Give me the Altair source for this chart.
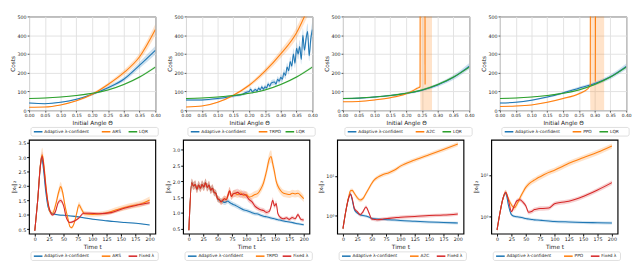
import altair as alt
import pandas as pd

FONT = "DejaVu Sans"
C_BLUE, C_ORANGE, C_GREEN, C_RED = "#1f77b4", "#ff7f0e", "#2ca02c", "#d62728"
ADAPT = "Adaptive λ-confident"
LQR = "LQR"
FIXED = "Fixed λ"
RL_NAMES = ["ARS", "TRPO", "A2C", "PPO"]

# ---------------- Top row: Costs vs initial angle ----------------
THETA = [0.00, 0.05, 0.10, 0.15, 0.20, 0.25, 0.30, 0.35, 0.40]
LQR_COST = [63, 65, 70, 78, 90, 108, 137, 177, 230]

ARS_ADAPT = [38, 35, 42, 58, 85, 120, 165, 240, 320]
ARS_RL = [16, 17, 28, 50, 85, 137, 200, 285, 430]

TRPO_ADAPT_X = [0.00, 0.05, 0.10, 0.15, 0.18, 0.19, 0.20, 0.205, 0.21, 0.22, 0.225, 0.23, 0.235,
                0.24, 0.245, 0.25, 0.255, 0.26, 0.265, 0.27, 0.28, 0.285, 0.29, 0.295, 0.30, 0.305,
                0.31, 0.315, 0.32, 0.325, 0.33, 0.335, 0.34, 0.345, 0.35, 0.355, 0.36, 0.365, 0.37,
                0.375, 0.38, 0.385, 0.39, 0.395, 0.40]
TRPO_ADAPT = [55, 55, 62, 76, 85, 95, 100, 112, 98, 110, 102, 118, 108,
              125, 112, 125, 118, 140, 128, 145, 150, 140, 165, 155, 175, 165,
              200, 185, 230, 210, 260, 235, 300, 250, 330, 300, 340, 270, 400,
              320, 380, 420, 290, 380, 430]
TRPO_RL_X = [0.00, 0.05, 0.10, 0.15, 0.20, 0.25, 0.30, 0.35, 0.375, 0.40]
TRPO_RL = [17, 22, 42, 80, 133, 208, 300, 413, 500, 600]

A2C_ADAPT = [62, 64, 70, 78, 90, 107, 135, 175, 235]
A2C_RL_X1 = [0.00, 0.05, 0.10, 0.15, 0.20, 0.22, 0.235, 0.244, 0.246]
A2C_RL_Y1 = [45, 47, 55, 67, 88, 103, 117, 125, 3000]
A2C_RL_X2 = [0.258, 0.260]
A2C_RL_Y2 = [3000, 137]
A2C_BAND_X = [0.00, 0.05, 0.10, 0.15, 0.20, 0.22, 0.235, 0.244, 0.246, 0.282]
A2C_BAND_LO = [43, 45, 52, 63, 83, 97, 110, 117, 0, 0]
A2C_BAND_HI = [47, 49, 58, 71, 93, 109, 124, 133, 3000, 3000]

PPO_ADAPT = [38, 42, 53, 70, 92, 117, 142, 178, 233]
PPO_RL_X1 = [0.00, 0.05, 0.10, 0.15, 0.20, 0.25, 0.28, 0.286, 0.288]
PPO_RL_Y1 = [20, 22, 28, 42, 62, 88, 117, 135, 3000]
PPO_RL_X2 = [0.300, 0.302, 0.306]
PPO_RL_Y2 = [3000, 155, 3000]
PPO_BAND_X = [0.00, 0.05, 0.10, 0.15, 0.20, 0.25, 0.28, 0.285, 0.287, 0.33]
PPO_BAND_LO = [18, 20, 26, 39, 58, 83, 110, 125, 0, 0]
PPO_BAND_HI = [22, 24, 30, 45, 66, 93, 124, 140, 3000, 3000]

# ---------------- Bottom row: ||x_t||_2 vs time ----------------
T5_BLUE = [0, 5, 10, 12, 15, 19, 23, 28, 35, 42, 55, 69, 85, 101, 120, 138, 157, 176, 190, 200]
ARS_B_BLUE = [0.45, 1.5, 2.75, 3.02, 2.6, 1.82, 1.28, 1.08, 1.02, 1.0, 0.98, 0.95, 0.9, 0.85,
              0.81, 0.77, 0.74, 0.71, 0.68, 0.65]
T5_ORANGE = [0, 5, 10, 13, 16, 20, 26, 31, 36, 42, 45, 48, 53, 58, 61, 64, 69, 73, 77, 80, 87,
             101, 122, 144, 165, 187, 200]
ARS_B_ORANGE = [0.45, 1.5, 2.8, 3.08, 2.7, 1.9, 1.12, 1.06, 1.33, 1.82, 1.98, 1.82, 1.28, 0.85,
                0.6, 0.56, 0.74, 1.06, 1.35, 1.25, 1.04, 1.02, 1.06, 1.19, 1.3, 1.4, 1.52]
T5_RED = [0, 5, 10, 13, 16, 20, 26, 31, 36, 41, 45, 50, 55, 61, 69, 77, 85, 95, 112, 133, 154,
          176, 200]
ARS_B_RED = [0.45, 1.5, 2.75, 3.03, 2.6, 1.82, 1.17, 1.0, 1.12, 1.44, 1.5, 1.33, 0.9, 0.74,
             0.79, 0.9, 1.06, 1.06, 1.04, 1.08, 1.22, 1.33, 1.42]

T6 = [0, 5, 8, 11, 14, 17, 20, 23, 26, 29, 32, 35, 38, 41, 44, 47, 50, 53, 56, 59, 62, 65, 68,
      71, 74, 77, 80, 85, 90, 95, 100, 105, 110, 115, 120, 125, 130, 135, 140, 143, 146, 149,
      152, 155, 160, 165, 170, 175, 180, 185, 190, 195, 200]
TRPO_B_BLUE = [0.46, 1.95, 1.85, 1.9, 1.75, 1.88, 1.78, 1.9, 1.82, 1.95, 1.8, 1.88, 1.72, 1.78,
               1.65, 1.62, 1.45, 1.4, 1.38, 1.36, 1.33, 1.35, 1.38, 1.33, 1.3, 1.27, 1.25, 1.2,
               1.15, 1.1, 1.08, 1.05, 1.01, 0.98, 0.97, 0.93, 0.9, 0.88, 0.86, 0.84, 0.83, 0.82,
               0.8, 0.79, 0.77, 0.75, 0.73, 0.72, 0.7, 0.68, 0.66, 0.65, 0.63]
TRPO_B_ORANGE = [0.46, 1.95, 1.85, 1.9, 1.75, 1.88, 1.78, 1.9, 1.82, 1.95, 1.8, 1.88, 1.72, 1.78,
                 1.65, 1.62, 1.45, 1.42, 1.35, 1.4, 1.45, 1.42, 1.55, 1.7, 1.52, 1.6, 1.62, 1.58,
                 1.63, 1.55, 1.58, 1.5, 1.53, 1.58, 1.62, 1.75, 1.95, 2.3, 2.7, 2.78, 2.55, 2.3,
                 2.0, 1.85, 1.7, 1.62, 1.6, 1.58, 1.62, 1.6, 1.62, 1.55, 1.45]
TRPO_B_RED = [0.46, 1.95, 1.85, 1.9, 1.75, 1.88, 1.78, 1.9, 1.82, 1.95, 1.8, 1.88, 1.72, 1.78,
              1.65, 1.62, 1.45, 1.42, 1.35, 1.4, 1.45, 1.42, 1.55, 1.7, 1.52, 1.6, 1.62, 1.65,
              1.58, 1.6, 1.55, 1.42, 1.35, 1.22, 1.15, 1.1, 1.08, 1.02, 1.05, 1.2, 1.4, 1.22,
              1.3, 0.98, 0.85, 0.82, 0.85, 0.8, 0.86, 0.82, 0.95, 0.8, 0.78]

T7 = [0, 5, 10, 13, 16, 20, 25, 30, 35, 40, 45, 50, 55, 60, 70, 80, 90, 100, 125, 150, 175, 200]
A2C_B_BLUE = [0.47, 1.3, 2.8, 3.5, 2.5, 1.4, 1.15, 1.05, 1.0, 0.97, 0.92, 0.85, 0.83, 0.82, 0.8,
              0.78, 0.77, 0.75, 0.72, 0.69, 0.67, 0.65]
A2C_B_ORANGE = [0.47, 1.3, 3.0, 4.2, 4.3, 3.6, 2.8, 2.45, 2.7, 3.6, 4.8, 6.4, 8.0, 9.1, 10.8,
                12.0, 14.0, 17.5, 25.0, 34.0, 46.0, 63.0]
A2C_B_RED = [0.47, 1.3, 2.8, 3.5, 2.7, 1.5, 1.25, 1.05, 1.26, 1.65, 1.2, 0.82, 0.8, 0.78, 0.82,
             0.85, 0.88, 0.91, 0.95, 1.0, 1.03, 1.1]

T8 = [0, 5, 10, 15, 20, 25, 30, 35, 40, 45, 50, 55, 60, 65, 70, 75, 80, 90, 100, 110, 125, 150,
      175, 200]
PPO_B_BLUE = [0.47, 1.2, 2.6, 3.6, 1.8, 1.1, 1.0, 0.97, 0.95, 0.92, 0.88, 0.86, 0.84, 0.82, 0.81,
              0.8, 0.79, 0.77, 0.75, 0.74, 0.73, 0.71, 0.7, 0.69]
PPO_B_ORANGE = [0.47, 1.2, 2.6, 3.8, 2.6, 1.9, 1.6, 2.0, 2.8, 3.8, 5.0, 6.0, 6.8, 7.5, 8.3, 9.0,
                9.8, 11.5, 13.0, 15.0, 19.0, 26.0, 35.0, 50.0]
PPO_B_RED = [0.47, 1.2, 2.6, 3.8, 2.4, 1.3, 1.8, 2.4, 2.5, 2.2, 1.8, 1.25, 1.3, 1.45, 1.5, 1.55,
             1.55, 1.58, 2.0, 2.15, 2.3, 3.0, 4.3, 6.5]

# relative half-width of the confidence bands
SPREAD_TOP = {"adapt": 0.07, "rl": 0.07, "lqr": 0.03, "trpo_adapt": 0.1}
SPREAD_BOT = [{"adapt": 0.03, "rl": 0.08, "fixed": 0.05},
              {"adapt": 0.06, "rl": 0.07, "fixed": 0.07},
              {"adapt": 0.08, "rl": 0.12, "fixed": 0.1},
              {"adapt": 0.08, "rl": 0.15, "fixed": 0.12}]


def rows(name, xs, ys, frac, seg=0):
    return [dict(series=name, seg=seg, x=x, y=y, lo=y * (1 - frac), hi=y * (1 + frac))
            for x, y in zip(xs, ys)]


def band_rows(name, xs, lo, hi, seg=0):
    return [dict(series=name, seg=seg, x=x, lo=a, hi=b) for x, a, b in zip(xs, lo, hi)]


TOP_W, TOP_H = 132, 98
BOT_W, BOT_H = 132, 98

# legend layout (pixel offsets inside each panel, below the x-axis title)
LEG_BOX = (2, 135)
LEG_SYM_X = [5, 76, 104]
LEG_H = 9


def legend_layers(names, colors, top):
    box = alt.Chart(pd.DataFrame({"k": [0]})).mark_rect(
        fill="white", stroke="#d0d0d0", strokeWidth=0.7, cornerRadius=2).encode(
        x=alt.value(LEG_BOX[0]), x2=alt.value(LEG_BOX[1]),
        y=alt.value(top), y2=alt.value(top + LEG_H))
    layers = [box]
    mid = top + LEG_H / 2
    for name, color, sx in zip(names, colors, LEG_SYM_X):
        df = pd.DataFrame({"series": [name]})
        layers.append(alt.Chart(df).mark_rule(color=color, strokeWidth=1.6).encode(
            x=alt.value(sx), x2=alt.value(sx + 9), y=alt.value(mid)))
        layers.append(alt.Chart(df).mark_text(
            align="left", baseline="middle", fontSize=4.5, font=FONT, color="#222").encode(
            x=alt.value(sx + 11), y=alt.value(mid), text="series:N"))
    return layers


def panel(lines, bands, names, colors, xdom, ydom, xaxis, yaxis, leg_top, w, h,
          ytype="linear", view=None):
    xs = alt.Scale(domain=xdom, nice=False, zero=False)
    ys = alt.Scale(type=ytype, domain=ydom, nice=False, zero=False)
    band = alt.Chart(pd.DataFrame(bands)).mark_area(
        clip=True, opacity=0.22, interpolate="monotone").encode(
        x=alt.X("x:Q", scale=xs, axis=xaxis),
        y=alt.Y("lo:Q", scale=ys, axis=yaxis, stack=None),
        y2="hi:Q",
        fill=alt.Fill("series:N", scale=alt.Scale(domain=names[::-1], range=colors[::-1]),
                      legend=None),
        detail="seg:N",
    )
    line = alt.Chart(pd.DataFrame(lines)).mark_line(
        clip=True, strokeWidth=1.1, interpolate="monotone").encode(
        x=alt.X("x:Q", scale=xs, axis=xaxis),
        y=alt.Y("y:Q", scale=ys, axis=yaxis),
        stroke=alt.Stroke("series:N", scale=alt.Scale(domain=names, range=colors), legend=None),
        detail="seg:N",
    )
    return alt.layer(band, line, *legend_layers(names, colors, leg_top)).properties(
        width=w, height=h, view=view)


top_x_axis = alt.Axis(values=THETA, format=".2f", grid=True, gridColor="#e2e2e2", tickSize=2,
                      tickColor="#555", labelPadding=1, labelOverlap=False, labelFlush=False,
                      labelFontSize=4.6, title="Initial Angle Θ", titlePadding=2)
top_y_axis = alt.Axis(values=[0, 100, 200, 300, 400, 500], grid=True, gridColor="#e2e2e2",
                      tickSize=2, tickColor="#555", labelPadding=1, labelOverlap=False,
                      title="Costs", titlePadding=2)
top_view = alt.ViewBackground(stroke="#333", strokeWidth=1)

top_specs = [
    (ARS_ADAPT, THETA, [(ARS_RL, THETA)]),
    (TRPO_ADAPT, TRPO_ADAPT_X, [(TRPO_RL, TRPO_RL_X)]),
    (A2C_ADAPT, THETA, [(A2C_RL_Y1, A2C_RL_X1), (A2C_RL_Y2, A2C_RL_X2)]),
    (PPO_ADAPT, THETA, [(PPO_RL_Y1, PPO_RL_X1), (PPO_RL_Y2, PPO_RL_X2)]),
]
explicit_bands = {2: (A2C_BAND_X, A2C_BAND_LO, A2C_BAND_HI), 3: (PPO_BAND_X, PPO_BAND_LO, PPO_BAND_HI)}

top_panels = []
for i, (ad, adx, rl_segs) in enumerate(top_specs):
    rl = RL_NAMES[i]
    fa = SPREAD_TOP["trpo_adapt"] if i == 1 else SPREAD_TOP["adapt"]
    lines = rows(ADAPT, adx, ad, fa)
    for s, (ry, rx) in enumerate(rl_segs):
        lines += rows(rl, rx, ry, SPREAD_TOP["rl"], seg=s)
    lines += rows(LQR, THETA, LQR_COST, SPREAD_TOP["lqr"])
    bands = rows(ADAPT, adx, ad, fa)
    if i in explicit_bands:
        bx, blo, bhi = explicit_bands[i]
        bands += band_rows(rl, bx, blo, bhi)
    else:
        ry, rx = rl_segs[0]
        bands += rows(rl, rx, ry, SPREAD_TOP["rl"])
    bands += rows(LQR, THETA, LQR_COST, SPREAD_TOP["lqr"])
    top_panels.append(panel(lines, bands, [ADAPT, rl, LQR], [C_BLUE, C_ORANGE, C_GREEN],
                            [0, 0.4], [0, 500], top_x_axis, top_y_axis,
                            TOP_H + 18, TOP_W, TOP_H, view=top_view))

TIME_TICKS = [0, 25, 50, 75, 100, 125, 150, 175, 200]
bot_x_axis = alt.Axis(values=TIME_TICKS, grid=False, tickSize=2.5, tickColor="#000",
                      labelPadding=1, labelOverlap=False, labelFlush=False,
                      title="Time t", titlePadding=2)
bot_view = alt.ViewBackground(stroke="#000", strokeWidth=1.2)

LOG_EXPR = "datum.value == 1 ? '10⁰' : '10¹'"
bot_specs = [
    ((T5_BLUE, ARS_B_BLUE), (T5_ORANGE, ARS_B_ORANGE), (T5_RED, ARS_B_RED), "linear", [0.35, 3.6],
     [0.5, 1.0, 1.5, 2.0, 2.5, 3.0, 3.5]),
    ((T6, TRPO_B_BLUE), (T6, TRPO_B_ORANGE), (T6, TRPO_B_RED), "linear", [0.35, 3.3],
     [0.5, 1.0, 1.5, 2.0, 2.5, 3.0]),
    ((T7, A2C_B_BLUE), (T7, A2C_B_ORANGE), (T7, A2C_B_RED), "log", [0.35, 80], [1, 10]),
    ((T8, PPO_B_BLUE), (T8, PPO_B_ORANGE), (T8, PPO_B_RED), "log", [0.38, 70], [1, 10]),
]

bot_panels = []
for i, (b, o, r, ytype, ydom, yvals) in enumerate(bot_specs):
    rl = RL_NAMES[i]
    sp = SPREAD_BOT[i]
    if ytype == "linear":
        yax = alt.Axis(values=yvals, format=".1f", grid=False, tickSize=2.5, tickColor="#000",
                       labelPadding=1, labelOverlap=False, title="‖xₜ‖₂", titlePadding=2)
    else:
        yax = alt.Axis(values=yvals, labelExpr=LOG_EXPR, grid=False, tickSize=2.5,
                       tickColor="#000", labelPadding=1, labelOverlap=False,
                       title="‖xₜ‖₂", titlePadding=2)
    lines = rows(ADAPT, b[0], b[1], sp["adapt"]) + rows(rl, o[0], o[1], sp["rl"]) + \
        rows(FIXED, r[0], r[1], sp["fixed"])
    bot_panels.append(panel(lines, lines, [ADAPT, rl, FIXED], [C_BLUE, C_ORANGE, C_RED],
                            [-10, 210], ydom, bot_x_axis, yax, BOT_H + 19,
                            BOT_W, BOT_H, ytype=ytype, view=bot_view))

top_row = alt.hconcat(*top_panels, spacing=4).resolve_scale(stroke="independent", fill="independent")
bot_row = alt.hconcat(*bot_panels, spacing=4).resolve_scale(stroke="independent", fill="independent")

chart = alt.vconcat(top_row, bot_row, spacing=2).resolve_scale(
    stroke="independent", fill="independent"
).properties(padding=0).configure(font=FONT, background="white").configure_axis(
    labelFont=FONT, titleFont=FONT, labelFontSize=5, titleFontSize=6, titleFontWeight="normal",
    labelColor="#222", titleColor="#222", domain=False
)

chart.save("out.html", embed_options={"renderer": "svg", "actions": False})
